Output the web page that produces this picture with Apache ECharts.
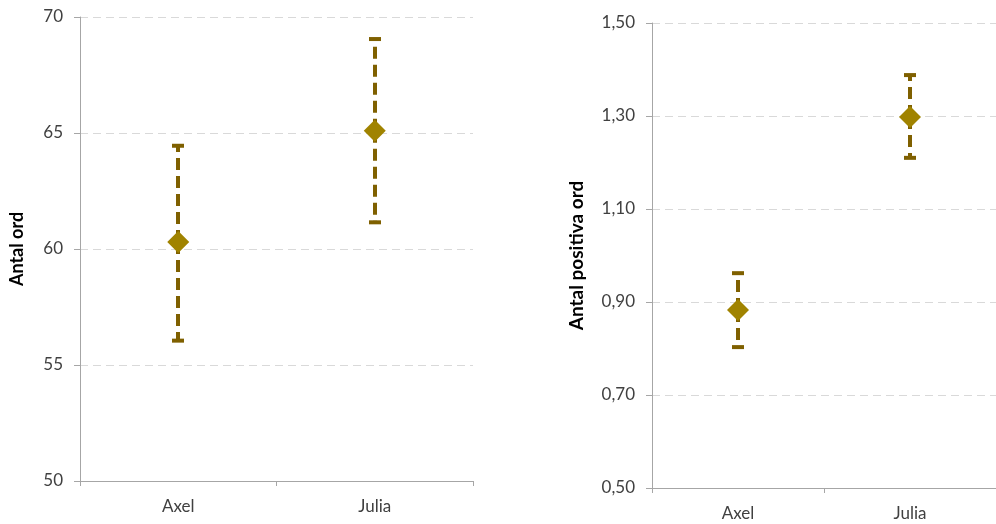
<!DOCTYPE html>
<html><head><meta charset="utf-8">
<script src="https://cdn.jsdelivr.net/npm/echarts@6/dist/echarts.min.js"></script>
<style>html,body{margin:0;padding:0;background:#fff}#c{width:996px;height:524px}</style>
</head><body><div id="c"></div>
<script>
var categories = ['Axel', 'Julia'];
var ordMean = [60.3, 65.1];
var ordLow = [56.05, 61.15];
var ordHigh = [64.45, 69.05];
var posMean = [0.883, 1.298];
var posLow = [0.803, 1.21];
var posHigh = [0.962, 1.388];
var ordTicks = [50, 55, 60, 65, 70];
var posTicks = [0.5, 0.7, 0.9, 1.1, 1.3, 1.5];

var markerColor = '#a08300';
var barColor = '#7f6000';
var font = 'Lato, Open Sans, sans-serif';

function errSeries(idx, low, high, mean) {
  return {
    type: 'custom', xAxisIndex: idx, yAxisIndex: idx, z: 2,
    data: categories.map(function (c, i) { return [i, low[i], high[i], mean[i]]; }),
    renderItem: function (params, api) {
      var x = api.value(0);
      var pLo = api.coord([x, api.value(1)]);
      var pHi = api.coord([x, api.value(2)]);
      var pM = api.coord([x, api.value(3)]);
      var cx = Math.round(pM[0]);
      var st = { stroke: barColor, lineWidth: 4, lineDash: [12, 6] };
      var cap = { stroke: barColor, lineWidth: 4 };
      return { type: 'group', children: [
        { type: 'line', shape: { x1: cx, y1: pM[1], x2: cx, y2: pHi[1] }, style: st },
        { type: 'line', shape: { x1: cx, y1: pM[1], x2: cx, y2: pLo[1] }, style: st },
        { type: 'line', shape: { x1: cx - 6, y1: pHi[1], x2: cx + 6, y2: pHi[1] }, style: cap },
        { type: 'line', shape: { x1: cx - 6, y1: pLo[1], x2: cx + 6, y2: pLo[1] }, style: cap }
      ]};
    }
  };
}

function xAx(idx) {
  return {
    type: 'category', gridIndex: idx, data: categories,
    axisLine: { lineStyle: { color: '#a6a6a6', width: 1 } },
    axisTick: { show: true, length: 5, lineStyle: { color: '#a6a6a6' } },
    axisLabel: { color: '#404040', fontSize: 17, fontFamily: font, margin: 17 },
    splitLine: { show: false }
  };
}
function yAx(idx, ticks, fmt, name, nameGap, nameSize) {
  return {
    type: 'value', gridIndex: idx, min: ticks[0], max: ticks[ticks.length - 1],
    interval: ticks[1] - ticks[0],
    name: name, nameLocation: 'middle', nameGap: nameGap,
    nameTextStyle: { color: '#000', fontWeight: 'bold', fontSize: nameSize, fontFamily: font },
    axisLine: { show: true, lineStyle: { color: '#a6a6a6', width: 1 } },
    axisTick: { show: true, length: 6, lineStyle: { color: '#a6a6a6' } },
    axisLabel: { color: '#404040', fontSize: 17, fontFamily: font, margin: 17, formatter: fmt },
    splitLine: { show: true, lineStyle: { color: '#d9d9d9', type: [8, 5], width: 1 } }
  };
}

var chart = echarts.init(document.getElementById('c'), null, { renderer: 'canvas' });
chart.setOption({
  animation: false,
  backgroundColor: '#fff',
  grid: [
    { left: 80, width: 393, top: 17, height: 464 },
    { left: 652, width: 357, top: 23, height: 465 }
  ],
  xAxis: [xAx(0), xAx(1)],
  yAxis: [
    yAx(0, ordTicks, function (v) { return String(v); }, 'Antal ord', 54, 18),
    yAx(1, posTicks, function (v) { return v.toFixed(2).replace('.', ','); }, 'Antal positiva ord', 66, 19)
  ],
  series: [
    errSeries(0, ordLow, ordHigh, ordMean),
    errSeries(1, posLow, posHigh, posMean),
    { type: 'scatter', xAxisIndex: 0, yAxisIndex: 0, z: 3, symbol: 'diamond', symbolSize: [22, 22],
      itemStyle: { color: markerColor, opacity: 1 }, data: ordMean },
    { type: 'scatter', xAxisIndex: 1, yAxisIndex: 1, z: 3, symbol: 'diamond', symbolSize: [22, 22],
      itemStyle: { color: markerColor, opacity: 1 }, data: posMean }
  ]
});
</script></body></html>
